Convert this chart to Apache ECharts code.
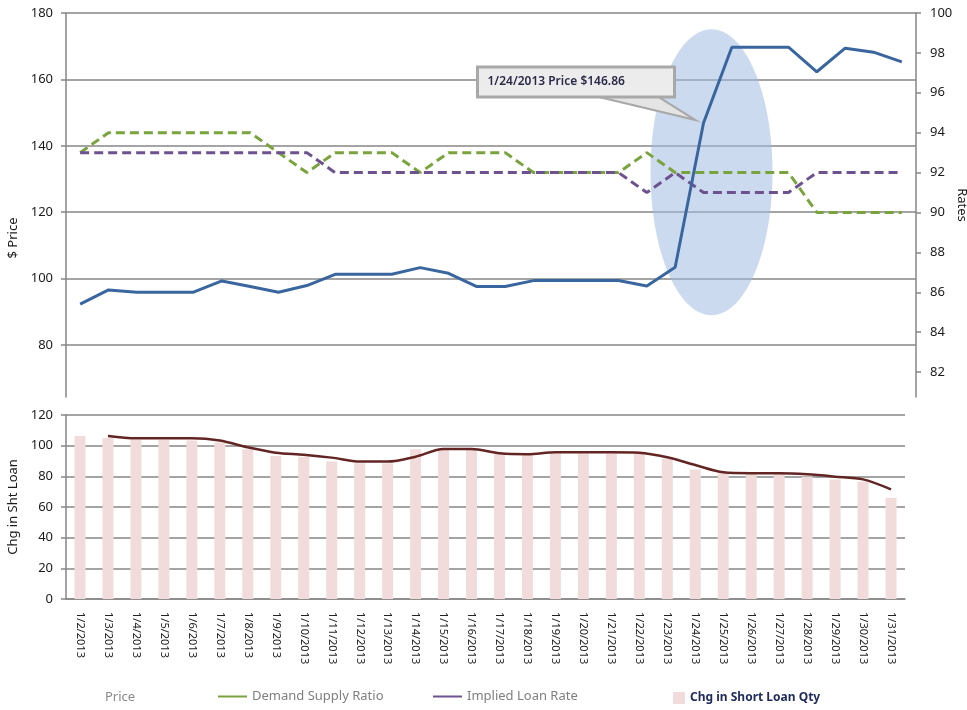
<!DOCTYPE html>
<html>
<head>
<meta charset="utf-8">
<script src="https://cdn.jsdelivr.net/npm/echarts@6/dist/echarts.min.js"></script>
<style>
  html, body { margin: 0; background: #fff; }
  #chart { width: 967px; height: 710px; }
</style>
</head>
<body>
<div id="chart"></div>
<script>
// dates shared by both panels
const dates = [
  "1/2/2013", "1/3/2013", "1/4/2013", "1/5/2013", "1/6/2013", "1/7/2013", "1/8/2013", "1/9/2013", "1/10/2013", "1/11/2013",
  "1/12/2013", "1/13/2013", "1/14/2013", "1/15/2013", "1/16/2013", "1/17/2013", "1/18/2013", "1/19/2013", "1/20/2013", "1/21/2013",
  "1/22/2013", "1/23/2013", "1/24/2013", "1/25/2013", "1/26/2013", "1/27/2013", "1/28/2013", "1/29/2013", "1/30/2013", "1/31/2013",
];

// top panel: price ($, left axis) and rates (right axis)
const price = [
  92.3, 96.6, 95.9, 95.9, 95.9, 99.3, 97.6, 95.9, 97.9, 101.3,
  101.3, 101.3, 103.3, 101.6, 97.6, 97.6, 99.4, 99.4, 99.4, 99.4,
  97.8, 103.4, 146.86, 169.7, 169.7, 169.7, 162.3, 169.4, 168.2, 165.3,
];
const demandSupplyRatio = [
  93, 94, 94, 94, 94, 94, 94, 93, 92, 93,
  93, 93, 92, 93, 93, 93, 92, 92, 92, 92,
  93, 92, 92, 92, 92, 92, 90, 90, 90, 90,
];
const impliedLoanRate = [
  93, 93, 93, 93, 93, 93, 93, 93, 93, 92,
  92, 92, 92, 92, 92, 92, 92, 92, 92, 92,
  91, 92, 91, 91, 91, 91, 92, 92, 92, 92,
];

// bottom panel: change in short loan
const shortLoanQty = [
  106.3, 105, 103.7, 103.7, 103.3, 102, 97.6, 93.3, 92.8, 89.6,
  88.5, 88.5, 97.6, 97.5, 97.2, 95, 93.9, 95, 95, 95,
  95, 91.7, 84.5, 82, 81.5, 81.5, 79.8, 78, 76.5, 66,
];
const shortLoanTrend = [
  null, 106.3, 104.8, 104.8, 104.8, 103.3, 98.9, 95.4, 94.1, 92.2,
  89.6, 89.6, 92.8, 97.8, 97.8, 95, 94.4, 95.7, 95.7, 95.7,
  95.4, 92.4, 87.4, 82.6, 82, 82, 81.3, 79.8, 78, 71.5,
];

// callout
const calloutDate = "1/24/2013";
const calloutPrice = 146.86;
const calloutText = "1/24/2013 Price $146.86";
const highlightCenterPrice = 132;

const PRICE_COLOR = "#3a66a0";
const DSR_COLOR = "#79a33d";
const ILR_COLOR = "#6e5290";
const BAR_COLOR = "#f2dcdb";
const TREND_COLOR = "#632523";
const AXIS_COLOR = "#868686";
const FONT = "'Noto Sans', sans-serif";

const labelStyle = { color: "#1a1a1a", fontSize: 13, fontFamily: FONT };

// legend-only entry: solid key for a dashed series (same name, no data)
const legendKey = (name, color) => ({
  name, type: "line", xAxisIndex: 0, yAxisIndex: 1, data: [], symbol: "none",
  itemStyle: { color }, lineStyle: { color, width: 1, type: "solid" },
});

const chart = echarts.init(document.getElementById("chart"));

const option = {
  animation: false,
  backgroundColor: "#fff",
  grid: [
    { left: 66, right: 51, top: 13, height: 384, outerBoundsMode: "none" },
    { left: 66, right: 62, top: 415, height: 184, outerBoundsMode: "none" },
  ],
  legend: [
    {
      left: 70, top: 685, itemWidth: 25, itemHeight: 14,
      data: [{ name: "Price", icon: "rect", itemStyle: { color: "rgba(0,0,0,0)", borderWidth: 0 } }],
      textStyle: { color: "#8a8a8a", fontSize: 13, fontFamily: FONT },
    },
    {
      left: 213, top: 685, itemWidth: 29, itemHeight: 2,
      data: [{ name: "Demand Supply Ratio", icon: "rect", itemStyle: { color: DSR_COLOR } }],
      textStyle: { color: "#7f7f7f", fontSize: 13, fontFamily: FONT },
    },
    {
      left: 428, top: 685, itemWidth: 29, itemHeight: 2,
      data: [{ name: "Implied Loan Rate", icon: "rect", itemStyle: { color: ILR_COLOR } }],
      textStyle: { color: "#7f7f7f", fontSize: 13, fontFamily: FONT },
    },
    {
      left: 668, top: 687, itemWidth: 12, itemHeight: 12,
      data: [{ name: "Chg in Short Loan Qty", icon: "rect" }],
      textStyle: { color: "#1f2a5a", fontSize: 12, fontWeight: "bold", fontFamily: FONT },
    },
  ],
  xAxis: [
    {
      type: "category", gridIndex: 0, data: dates, boundaryGap: true,
      axisLine: { show: false }, axisTick: { show: false }, axisLabel: { show: false },
    },
    {
      type: "category", gridIndex: 1, data: dates, boundaryGap: true,
      axisLine: { lineStyle: { color: AXIS_COLOR, width: 1.5 } },
      axisTick: { length: 5, lineStyle: { color: AXIS_COLOR, width: 1.5 } },
      axisLabel: { rotate: -90, interval: 0, margin: 13, color: "#222", fontSize: 11, fontFamily: FONT },
    },
  ],
  yAxis: [
    {
      type: "value", gridIndex: 0, min: 64.34, max: 180, splitNumber: 6,
      name: "$ Price", nameLocation: "middle", nameGap: 44,
      nameTextStyle: { color: "#1a1a1a", fontSize: 13, fontFamily: FONT, padding: [0, 66, 0, 0] },
      axisLine: { show: true, lineStyle: { color: AXIS_COLOR, width: 1.5 } },
      axisTick: { show: true, length: 5, lineStyle: { color: AXIS_COLOR, width: 1.5 } },
      axisLabel: { ...labelStyle, margin: 13, showMinLabel: false },
      splitLine: { showMinLine: false, lineStyle: { color: AXIS_COLOR, width: 1.5 } },
    },
    {
      type: "value", gridIndex: 0, position: "right", min: 80.75, max: 100, splitNumber: 10,
      name: "Rates", nameLocation: "middle", nameGap: 39, nameRotate: -90, nameMoveOverlap: false,
      nameTextStyle: { color: "#1a1a1a", fontSize: 13, fontFamily: FONT },
      axisLine: { show: true, lineStyle: { color: AXIS_COLOR, width: 1.5 } },
      axisTick: { show: true, length: 5, lineStyle: { color: AXIS_COLOR, width: 1.5 } },
      axisLabel: { ...labelStyle, margin: 14, showMinLabel: false },
      splitLine: { show: false },
    },
    {
      type: "value", gridIndex: 1, min: 0, max: 120, interval: 20,
      name: "Chg in Sht Loan", nameLocation: "middle", nameGap: 39,
      nameTextStyle: { color: "#1a1a1a", fontSize: 13, fontFamily: FONT },
      axisLine: { show: true, lineStyle: { color: AXIS_COLOR, width: 1.5 } },
      axisTick: { show: true, length: 5, lineStyle: { color: AXIS_COLOR, width: 1.5 } },
      axisLabel: { ...labelStyle, margin: 13 },
      splitLine: { lineStyle: { color: AXIS_COLOR, width: 1.5 } },
    },
  ],
  series: [
    legendKey("Demand Supply Ratio", DSR_COLOR),
    legendKey("Implied Loan Rate", ILR_COLOR),
    {
      name: "Demand Supply Ratio", type: "line", xAxisIndex: 0, yAxisIndex: 1,
      data: demandSupplyRatio, symbol: "none", z: 3,
      itemStyle: { color: DSR_COLOR },
      lineStyle: { color: DSR_COLOR, width: 3, type: [9, 5] },
    },
    {
      name: "Implied Loan Rate", type: "line", xAxisIndex: 0, yAxisIndex: 1,
      data: impliedLoanRate, symbol: "none", z: 3,
      itemStyle: { color: ILR_COLOR },
      lineStyle: { color: ILR_COLOR, width: 3, type: [9, 5] },
    },
    {
      name: "Price", type: "line", xAxisIndex: 0, yAxisIndex: 0,
      data: price, symbol: "none", z: 4,
      itemStyle: { color: PRICE_COLOR },
      lineStyle: { color: PRICE_COLOR, width: 3 },
    },
    {
      name: "Chg in Short Loan Qty", type: "bar", xAxisIndex: 1, yAxisIndex: 2,
      data: shortLoanQty, barWidth: 11,
      itemStyle: { color: BAR_COLOR },
    },
    {
      name: "Short Loan Trend", type: "line", xAxisIndex: 1, yAxisIndex: 2,
      data: shortLoanTrend, symbol: "none", smooth: 0.3, z: 4,
      itemStyle: { color: TREND_COLOR },
      lineStyle: { color: TREND_COLOR, width: 2.5 },
    },
  ],
};

chart.setOption(option);

// highlight ellipse and callout anchored to the 1/24 price point
const tip = chart.convertToPixel({ xAxisIndex: 0, yAxisIndex: 0 }, [calloutDate, calloutPrice]);
const ell = chart.convertToPixel({ xAxisIndex: 0, yAxisIndex: 0 }, [calloutDate, highlightCenterPrice]);
const tipX = tip[0] - 8;
const tipY = tip[1] - 3;
const boxX = tipX - 218;
const boxY = tipY - 53;

chart.setOption({
  graphic: [
    {
      type: "ellipse", z: 1, silent: true,
      shape: { cx: ell[0] + 8, cy: ell[1], rx: 61, ry: 143 },
      style: { fill: "rgba(160,188,224,0.55)" },
    },
    {
      type: "polygon", z: 10, silent: true,
      shape: { points: [[boxX + 113, boxY + 28], [boxX + 178, boxY + 28], [tipX, tipY]] },
      style: { fill: "#e4e4e4", stroke: "#a8a8a8", lineWidth: 2 },
    },
    {
      type: "rect", z: 11, silent: true,
      shape: { x: boxX, y: boxY, width: 197, height: 30 },
      style: { fill: "#ececec", stroke: "#a8a8a8", lineWidth: 3 },
    },
    {
      type: "text", z: 12, silent: true,
      x: boxX + 10, y: boxY + 15,
      style: { text: calloutText, fill: "#2a2a48", font: "600 12px 'Noto Sans', sans-serif", verticalAlign: "middle" },
    },
  ],
});
</script>
</body>
</html>
